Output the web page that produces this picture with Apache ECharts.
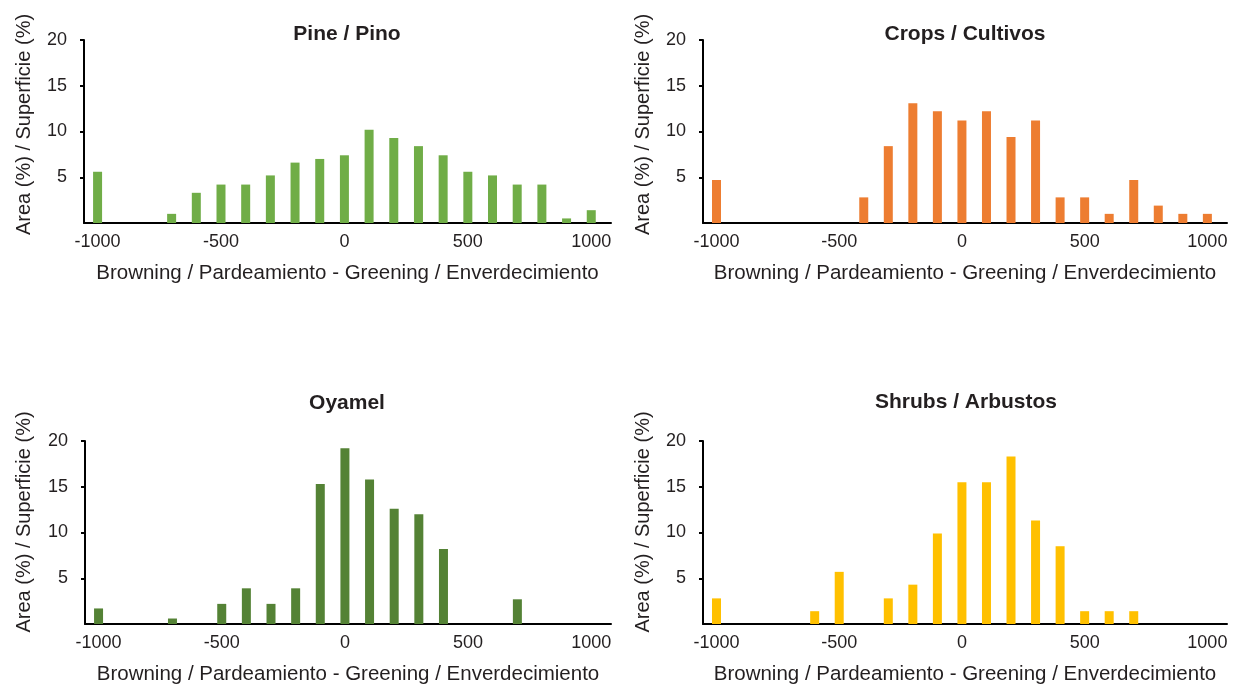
<!DOCTYPE html>
<html><head><meta charset="utf-8">
<script src="https://cdn.jsdelivr.net/npm/echarts@6/dist/echarts.min.js"></script>
<style>html,body{margin:0;padding:0;background:#fff}#c{width:1235px;height:689px}</style>
</head><body><div id="c"></div><script>
const categories = [-1000,-900,-800,-700,-600,-500,-400,-300,-200,-100,0,100,200,300,400,500,600,700,800,900,1000];
const xTickLabels = [-1000,-500,0,500,1000];
const yTickLabels = [5,10,15,20];
const pine   = [5.6,0,0,1.0,3.3,4.2,4.2,5.2,6.6,7.0,7.4,10.2,9.3,8.4,7.4,5.6,5.2,4.2,4.2,0.5,1.4];
const crops  = [4.7,0,0,0,0,0,2.8,8.4,13.1,12.2,11.2,12.2,9.4,11.2,2.8,2.8,1.0,4.7,1.9,1.0,1.0];
const oyamel = [1.7,0,0,0.6,0,2.2,3.9,2.2,3.9,15.3,19.2,15.8,12.6,12.0,8.2,0,0,2.7,0,0,0];
const shrubs = [2.8,0,0,0,1.4,5.7,0,2.8,4.3,9.9,15.5,15.5,18.3,11.3,8.5,1.4,1.4,1.4,0,0,0];
const titles = ['Pine / Pino','Crops / Cultivos','Oyamel','Shrubs / Arbustos'];
const yAxisName = 'Area (%) / Superficie (%)';
const xAxisName = 'Browning / Pardeamiento - Greening / Enverdecimiento';

const seriesValues = [pine, crops, oyamel, shrubs];
const colors = ['#70AD47','#ED7D31','#548235','#FFC000'];
const grids = [
  {left:84,  top:40,  width:527, height:183},
  {left:703, top:40,  width:524, height:183},
  {left:85,  top:441, width:526, height:183},
  {left:703, top:441, width:524, height:183}
];
const titlePos = [[342,19],[960,19],[342,388],[961,387]];
const yNamePos = [[24,124.5],[643,124.5],[24,522],[643,522]];
const sans = "'Liberation Sans',Arial,Helvetica,sans-serif";
const ink = '#231f20';

const option = {
  backgroundColor:'#fff',
  animation:false,
  title: titles.map((t,i)=>({
    text:t, left:titlePos[i][0], top:titlePos[i][1], textAlign:'center',
    textStyle:{fontFamily:sans, fontWeight:'bold', fontSize:21, color:ink}
  })),
  graphic: yNamePos.map(p=>({
    type:'text', x:p[0], y:p[1], rotation:Math.PI/2,
    style:{text:yAxisName, fill:ink, font:"20px 'Liberation Sans', Arial, sans-serif", align:'center', verticalAlign:'middle'}
  })),
  grid: grids.map(g=>Object.assign({containLabel:false}, g)),
  xAxis: grids.map((g,i)=>({
    gridIndex:i, type:'value', min:-1055, max:1080,
    axisLine:{show:true, onZero:false, lineStyle:{color:'#000', width:2}},
    axisTick:{show:false},
    splitLine:{show:false},
    axisLabel:{customValues:xTickLabels, formatter:v=>String(v), fontFamily:sans, fontSize:18, color:ink, margin:10},
    name:xAxisName, nameLocation:'middle', nameGap:40,
    nameTextStyle:{fontFamily:sans, fontSize:20.5, color:ink}
  })),
  yAxis: grids.map((g,i)=>({
    gridIndex:i, type:'value', min:0, max:20, interval:5,
    axisLine:{show:true, onZero:false, lineStyle:{color:'#000', width:2}},
    axisTick:{show:true, customValues:yTickLabels, length:4, lineStyle:{color:'#000', width:2}},
    splitLine:{show:false},
    axisLabel:{customValues:yTickLabels, formatter:v=>String(v), fontFamily:sans, fontSize:18, color:ink, margin:17}
  })),
  series: seriesValues.map((vals,i)=>({
    type:'bar', xAxisIndex:i, yAxisIndex:i, barWidth:9,
    itemStyle:{color:colors[i]},
    data: categories.map((c,j)=>[c, vals[j]])
  }))
};
const chart = echarts.init(document.getElementById('c'), null, {renderer:'canvas'});
chart.setOption(option);
</script></body></html>
